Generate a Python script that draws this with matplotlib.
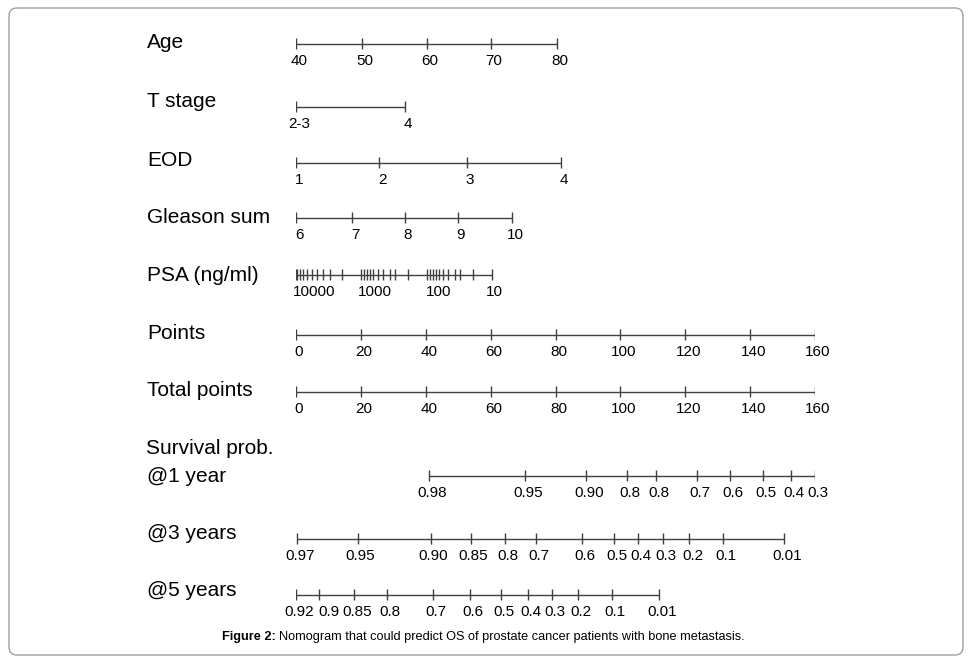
import matplotlib
matplotlib.use('Agg')
import matplotlib.pyplot as plt
import matplotlib.transforms as mtransforms
from matplotlib.patches import FancyBboxPatch

plt.rcParams['font.family'] = ['Liberation Sans', 'DejaVu Sans']

# --- data (positions on the 0-160 points scale) ---
age_labels = ['40', '50', '60', '70', '80']
age_pts = [0, 20.3, 40.4, 60.1, 80.4]

tstage_labels = ['2-3', '4']
tstage_pts = [0, 33.6]

eod_labels = ['1', '2', '3', '4']
eod_pts = [0, 25.6, 52.7, 81.7]

gleason_labels = ['6', '7', '8', '9', '10']
gleason_pts = [0, 17.3, 33.6, 49.9, 66.6]

psa_labels = ['10000', '1000', '100', '10']
psa_label_pts = [4.8, 23.4, 43.1, 60.3]
psa_tick_pts = [0, 0.4, 1.2, 2.2, 3.3, 4.8, 6.4, 8.4, 10.5, 14.1,
                20.0, 21.0, 21.8, 22.8, 23.8, 25.4, 26.9, 29.0, 30.5, 34.6,
                40.3, 41.3, 42.1, 43.1, 44.2, 45.4, 46.9, 49.0, 50.5, 54.5, 60.3]

points_labels = ['0', '20', '40', '60', '80', '100', '120', '140', '160']
points_pts = [0, 20, 40, 60, 80, 100, 120, 140, 160]

total_labels = ['0', '20', '40', '60', '80', '100', '120', '140', '160']
total_pts = [0, 20, 40, 60, 80, 100, 120, 140, 160]

surv1_labels = ['0.98', '0.95', '0.90', '0.8', '0.8', '0.7', '0.6', '0.5', '0.4', '0.3']
surv1_pts = [41.1, 70.7, 89.5, 101.9, 111.0, 123.7, 133.8, 144.0, 152.6, 160.0]

surv3_labels = ['0.97', '0.95', '0.90', '0.85', '0.8', '0.7', '0.6', '0.5', '0.4', '0.3',
                '0.2', '0.1', '0.01']
surv3_pts = [0.2, 19.0, 41.5, 53.8, 64.3, 74.1, 88.1, 97.9, 105.5, 113.0, 121.3, 131.5, 150.4]

surv5_labels = ['0.92', '0.9', '0.85', '0.8', '0.7', '0.6', '0.5', '0.4', '0.3', '0.2',
                '0.1', '0.01']
surv5_pts = [0, 7.1, 17.9, 28.1, 42.3, 53.6, 63.3, 71.6, 78.8, 87.0, 97.5, 112.0]
# the "0.9" label is pushed right of its tick in the original
surv5_label_pts = [0, 9.2, 17.9, 28.1, 42.3, 53.6, 63.3, 71.6, 78.8, 87.0, 97.5, 112.0]

row_names = ['Age', 'T stage', 'EOD', 'Gleason sum', 'PSA (ng/ml)', 'Points',
             'Total points', '@1 year', '@3 years', '@5 years']

# (tick positions, label positions, labels) per row
rows = [
    (age_pts, age_pts, age_labels),
    (tstage_pts, tstage_pts, tstage_labels),
    (eod_pts, eod_pts, eod_labels),
    (gleason_pts, gleason_pts, gleason_labels),
    (psa_tick_pts, psa_label_pts, psa_labels),
    (points_pts, points_pts, points_labels),
    (total_pts, total_pts, total_labels),
    (surv1_pts, surv1_pts, surv1_labels),
    (surv3_pts, surv3_pts, surv3_labels),
    (surv5_pts, surv5_label_pts, surv5_labels),
]

# --- layout (pixels from top) ---
W, H = 972, 663
line_y = [44, 107, 163, 218, 275, 335, 392, 476, 539, 595]
name_baseline = [48, 107, 166, 223, 281, 339, 396, 482, 539, 596]
line_color = '#404040'

fig = plt.figure(figsize=(W / 100, H / 100), dpi=100)
ax = fig.add_axes([296 / W, 0, (815 - 296) / W, 1])
ax.set_xlim(0, 160)
ax.set_ylim(H, 0)
ax.axis('off')

# labels sit a little right of their ticks in the original
lab_shift = mtransforms.offset_copy(ax.transData, fig=fig, x=3, y=0, units='dots')

for (ticks, lab_pos, labs), y in zip(rows, line_y):
    ax.hlines(y, min(ticks), max(ticks), color=line_color, lw=1.0)
    ax.vlines(ticks, y - 6, y + 5, color=line_color, lw=1.0)
    for p, t in zip(lab_pos, labs):
        ax.text(p, y + 10, t, ha='center', va='top', fontsize=11,
                color='black', transform=lab_shift)

for name, b in zip(row_names, name_baseline):
    fig.text(147 / W, 1 - b / H, name, ha='left', va='baseline', fontsize=15)
fig.text(146 / W, 1 - 454 / H, 'Survival prob.', ha='left', va='baseline', fontsize=15)

# border
border = FancyBboxPatch((0.09, 0.08), 9.54, 6.47,
                        boxstyle='round,pad=0,rounding_size=0.08',
                        transform=fig.dpi_scale_trans, fill=False,
                        edgecolor='#a0a0a0', lw=1.0)
fig.patches.append(border)

# caption: bold prefix + normal text
cap_y = 1 - 637 / H
t1 = fig.text(222 / W, cap_y, 'Figure 2:', ha='left', va='center',
              fontsize=9.2, fontweight='bold')
fig.canvas.draw()
bb = t1.get_window_extent(renderer=fig.canvas.get_renderer())
fig.text((bb.x1 + 3) / W, cap_y,
         'Nomogram that could predict OS of prostate cancer patients with bone metastasis.',
         ha='left', va='center', fontsize=9.2)

fig.savefig('out.png', dpi=100)
